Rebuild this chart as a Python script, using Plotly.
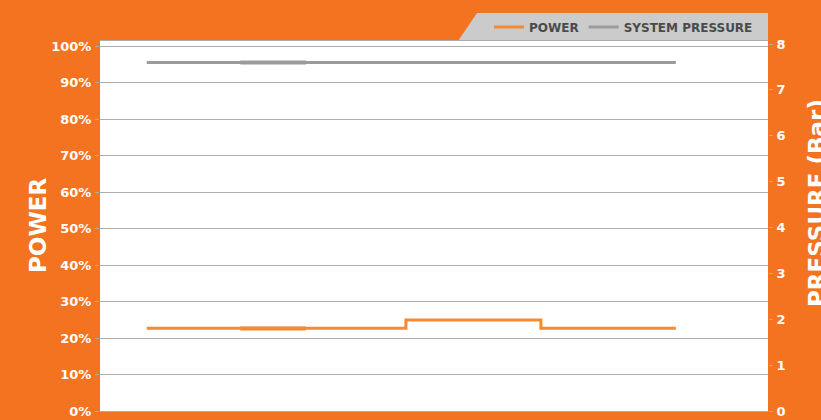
import plotly.graph_objects as go

# ---- data ----
time = [7.0, 17.1, 21.0, 30.8, 45.8, 66.0, 75.9, 86.2]          # arbitrary time units
power_pct = [22.7, 22.7, 22.7, 22.7, 24.9, 22.7, 22.7, 22.7]     # %
pressure_bar = [7.6, 7.6, 7.6, 7.6, 7.6, 7.6, 7.6, 7.6]          # bar
overlap_time = [21.0, 30.8]                                       # doubled segment
overlap_power = [22.6, 22.6]
overlap_pressure = [7.6, 7.6]
power_ticks = [0, 10, 20, 30, 40, 50, 60, 70, 80, 90, 100]
power_ticklabels = [f"{v}%" for v in power_ticks]
pressure_ticks = [0, 1, 2, 3, 4, 5, 6, 7, 8]

ORANGE_BG = "#F37320"
ORANGE_LINE = "#F7892E"
GREY_LINE = "#9B9B9B"
GRID = "#AEAEAE"
FONT = "DejaVu Sans"

fig = go.Figure()
fig.add_trace(go.Scatter(x=time, y=power_pct, mode="lines", name="POWER",
                         line=dict(color=ORANGE_LINE, width=3, shape="hv"),
                         yaxis="y"))
fig.add_trace(go.Scatter(x=time, y=pressure_bar, mode="lines", name="SYSTEM PRESSURE",
                         line=dict(color=GREY_LINE, width=3, shape="hv"),
                         yaxis="y2"))
fig.add_trace(go.Scatter(x=overlap_time, y=overlap_power, mode="lines", showlegend=False,
                         line=dict(color=ORANGE_LINE, width=4), yaxis="y", hoverinfo="skip"))
fig.add_trace(go.Scatter(x=overlap_time, y=overlap_pressure, mode="lines", showlegend=False,
                         line=dict(color=GREY_LINE, width=4), yaxis="y2", hoverinfo="skip"))

W, H = 821, 420
L, R, T, B = 100, 821 - 768, 41, 420 - 411
pw, ph = W - L - R, H - T - B

def px_x(px):
    return (px - L) / pw

def px_y(py):
    return (H - B - py) / ph

# legend background (slanted tab)
path = (f"M {px_x(458)},{px_y(41)} L {px_x(477)},{px_y(13)} "
        f"L {px_x(768)},{px_y(13)} L {px_x(768)},{px_y(41)} Z")

fig.update_layout(
    width=W, height=H,
    margin=dict(l=L, r=R, t=T, b=B, autoexpand=False),
    paper_bgcolor=ORANGE_BG,
    plot_bgcolor="white",
    font=dict(family=FONT, color="white"),
    showlegend=True,
    legend=dict(orientation="h", x=px_x(758), xanchor="right",
                y=px_y(27), yanchor="middle", bgcolor="rgba(0,0,0,0)",
                font=dict(family=FONT, size=12, color="#4A4A4A", weight="bold"),
                itemwidth=30, traceorder="normal"),
    shapes=[dict(type="path", path=path, xref="paper", yref="paper",
                 fillcolor="#CBCBCB", line=dict(width=0), layer="below")],
    xaxis=dict(range=[0, 100], showgrid=False, zeroline=False, showticklabels=False,
               ticks="", showline=True, linecolor=GRID, linewidth=1, mirror=True),
    yaxis=dict(range=[0, 101.37], tickvals=power_ticks, ticktext=power_ticklabels,
               showgrid=True, gridcolor=GRID, gridwidth=1, zeroline=False,
               ticks="outside", ticklen=4, tickcolor=GRID,
               tickfont=dict(family=FONT, size=13, color="white", weight="bold"),
               ticklabelstandoff=1),
    yaxis2=dict(range=[0, 8.066], tickvals=pressure_ticks, overlaying="y", side="right",
                showgrid=False, zeroline=False, ticks="outside", ticklen=4, tickcolor=GRID,
                tickfont=dict(family=FONT, size=13, color="white", weight="bold"),
                ticklabelstandoff=1),
    annotations=[
        dict(text="POWER", textangle=-90, xref="paper", yref="paper",
             x=px_x(38), y=px_y(226), xanchor="center", yanchor="middle",
             showarrow=False, font=dict(family=FONT, size=23, color="white", weight="bold")),
        dict(text="PRESSURE (Bar)", textangle=-90, xref="paper", yref="paper",
             x=px_x(817), y=px_y(203), xanchor="center", yanchor="middle",
             showarrow=False, font=dict(family=FONT, size=23, color="white", weight="bold")),
    ],
)

fig.write_html("out.html", config={"displayModeBar": False},
               post_script="document.body.style.margin='0';document.body.style.overflow='hidden';")
